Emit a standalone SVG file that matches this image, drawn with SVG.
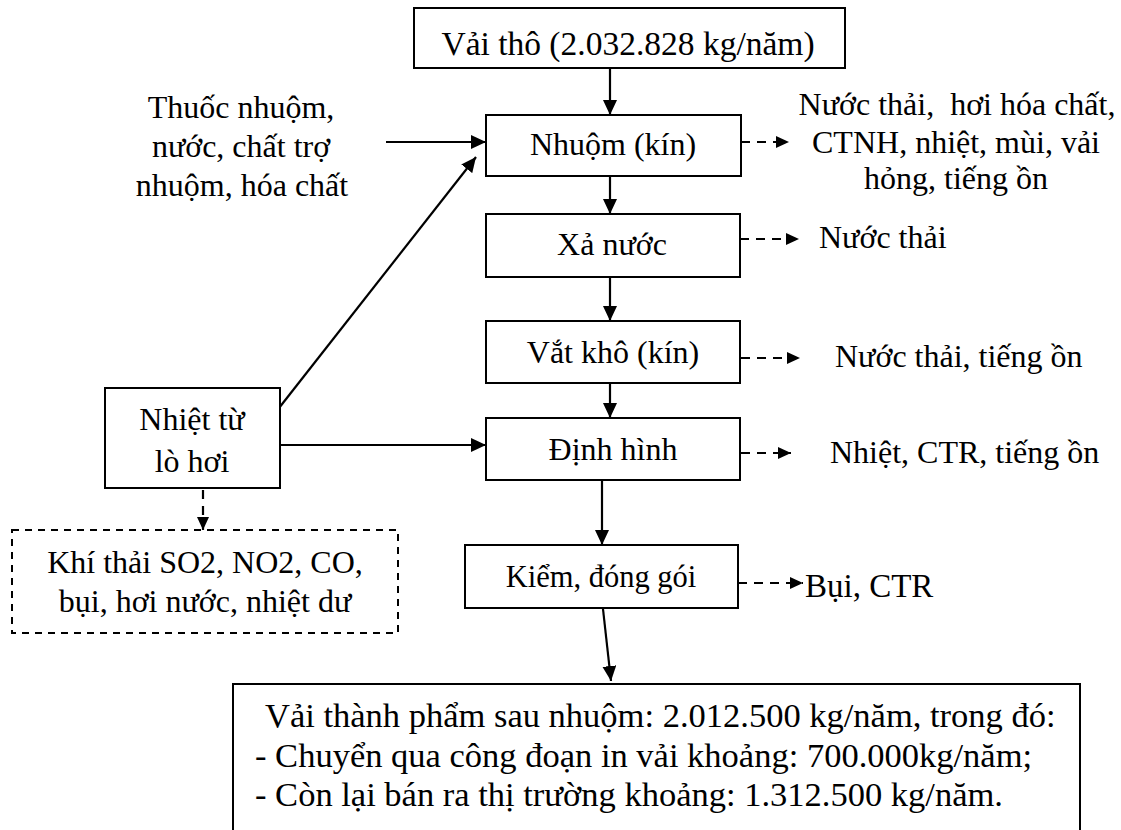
<svg xmlns="http://www.w3.org/2000/svg" width="1121" height="830" viewBox="0 0 1121 830" font-family="Liberation Serif, DejaVu Serif, serif">
  <defs>
    <marker id="arrow" markerUnits="userSpaceOnUse" markerWidth="16" markerHeight="14" refX="15" refY="7" orient="auto">
      <path d="M0,0 L15,7 L0,14 Z" fill="#000"/>
    </marker>
    <marker id="arrow-sm" markerUnits="userSpaceOnUse" markerWidth="14" markerHeight="12" refX="13" refY="6" orient="auto">
      <path d="M0,0 L13,6 L0,12 Z" fill="#000"/>
    </marker>
  </defs>
  <style>
    text { font-family: 'Liberation Serif', 'DejaVu Serif', serif; font-size: 32px; fill: #000; }
    .box { fill: #fff; stroke: #000; stroke-width: 2; }
    .dbox { fill: #fff; stroke: #000; stroke-width: 2; stroke-dasharray: 7 6; }
    .flow { stroke: #000; stroke-width: 2.2; fill: none; marker-end: url(#arrow); }
    .waste { stroke: #000; stroke-width: 2.2; fill: none; stroke-dasharray: 9 7; marker-end: url(#arrow-sm); }
    .c { text-anchor: middle; }
    .big { font-size: 34.5px; }
  </style>

  <!-- connectors -->
  <g id="connectors">
    <line class="flow" x1="610" y1="68" x2="610" y2="115"/>
    <line class="flow" x1="610" y1="176" x2="610" y2="214"/>
    <line class="flow" x1="610" y1="277" x2="610" y2="321"/>
    <line class="flow" x1="610" y1="383" x2="610" y2="418"/>
    <line class="flow" x1="602" y1="480" x2="602" y2="545"/>
    <line class="flow" x1="603" y1="609" x2="611" y2="681"/>
    <line class="flow" x1="386" y1="142" x2="486" y2="142"/>
    <line class="flow" x1="250" y1="445" x2="476" y2="157"/>
    <line class="flow" x1="250" y1="445" x2="486" y2="445"/>
    <line class="waste" x1="203" y1="490" x2="203" y2="530"/>
    <line class="waste" x1="741" y1="142" x2="789" y2="142"/>
    <line class="waste" x1="740" y1="239" x2="799" y2="239"/>
    <line class="waste" x1="741" y1="358" x2="800" y2="358"/>
    <line class="waste" x1="741" y1="453" x2="791" y2="453"/>
    <line class="waste" x1="738" y1="583" x2="803" y2="583"/>
  </g>

  <g id="vai-tho">
    <rect class="box" x="414" y="8" width="431" height="60"/>
    <text class="c" x="628" y="55" style="font-size:33.5px">Vải thô (2.032.828 kg/năm)</text>
  </g>

  <g id="nhuom">
    <rect class="box" x="486" y="115" width="255" height="61"/>
    <text class="c" x="613" y="155">Nhuộm (kín)</text>
  </g>

  <g id="xa-nuoc">
    <rect class="box" x="486" y="214" width="254" height="63"/>
    <text class="c" x="612" y="255">Xả nước</text>
  </g>

  <g id="vat-kho">
    <rect class="box" x="486" y="321" width="254" height="62"/>
    <text class="c" x="613" y="363">Vắt khô (kín)</text>
  </g>

  <g id="dinh-hinh">
    <rect class="box" x="486" y="418" width="254" height="62"/>
    <text class="c" x="613" y="460">Định hình</text>
  </g>

  <g id="kiem-dong-goi">
    <rect class="box" x="465" y="545" width="273" height="63"/>
    <text class="c" x="601" y="587" style="font-size:30.5px">Kiểm, đóng gói</text>
  </g>

  <g id="thanh-pham">
    <rect class="box" x="233" y="684" width="847" height="160"/>
    <text class="big" x="265" y="727">Vải thành phẩm sau nhuộm: 2.012.500 kg/năm, trong đó:</text>
    <text class="big" x="255" y="767">- Chuyển qua công đoạn in vải khoảng: 700.000kg/năm;</text>
    <text class="big" x="255" y="806">- Còn lại bán ra thị trường khoảng: 1.312.500 kg/năm.</text>
  </g>

  <g id="nguyen-lieu">
    <text class="c" x="241" y="118">Thuốc nhuộm,</text>
    <text class="c" x="241" y="157">nước, chất trợ</text>
    <text class="c" x="242" y="196">nhuộm, hóa chất</text>
  </g>

  <g id="lo-hoi">
    <rect class="box" x="105" y="388" width="175" height="100"/>
    <text class="c" x="192" y="430">Nhiệt từ</text>
    <text class="c" x="192" y="472">lò hơi</text>
  </g>

  <g id="khi-thai">
    <rect class="dbox" x="12" y="530" width="386" height="103"/>
    <text class="c" x="205" y="573">Khí thải SO2, NO2, CO,</text>
    <text class="c" x="205" y="612">bụi, hơi nước, nhiệt dư</text>
  </g>

  <g id="thai-nhuom">
    <text class="c" x="957" y="115" xml:space="preserve">Nước thải,  hơi hóa chất,</text>
    <text class="c" x="956" y="153">CTNH, nhiệt, mùi, vải</text>
    <text class="c" x="956" y="189">hỏng, tiếng ồn</text>
  </g>

  <g id="thai-xa-nuoc">
    <text x="819" y="248">Nước thải</text>
  </g>

  <g id="thai-vat-kho">
    <text x="835" y="367">Nước thải, tiếng ồn</text>
  </g>

  <g id="thai-dinh-hinh">
    <text x="830" y="463">Nhiệt, CTR, tiếng ồn</text>
  </g>

  <g id="thai-kiem">
    <text x="805" y="597" style="font-size:33px">Bụi, CTR</text>
  </g>
</svg>
